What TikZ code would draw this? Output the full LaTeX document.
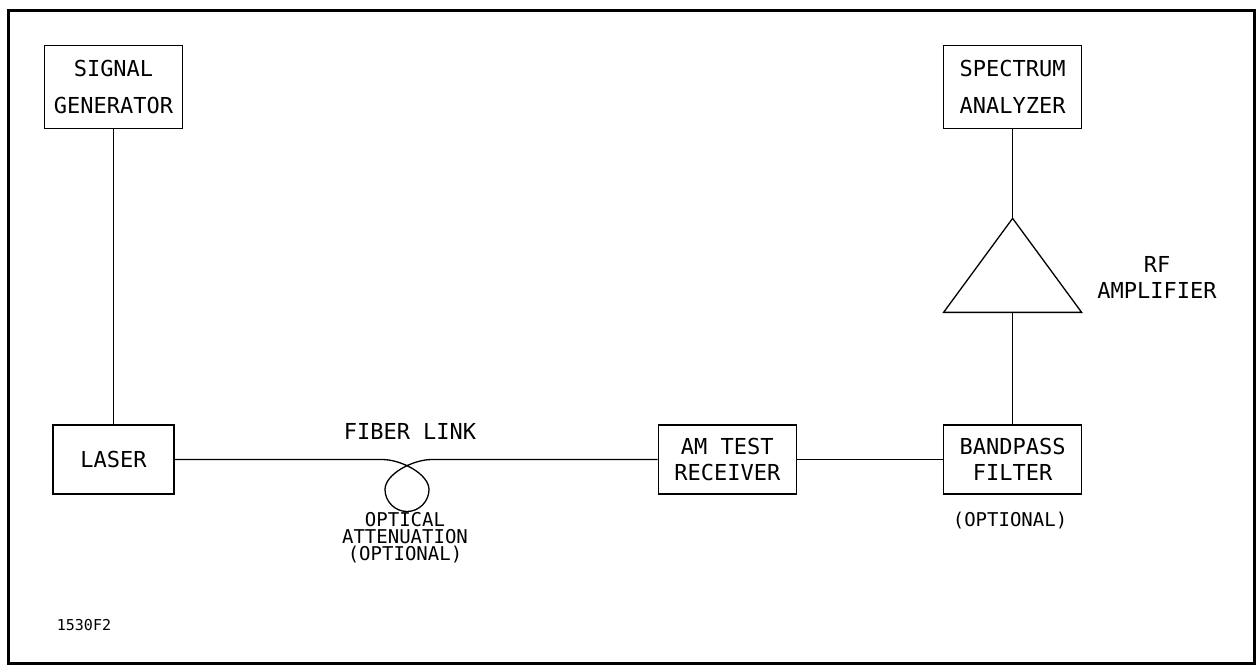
\documentclass[tikz,border=0pt]{standalone}
\usepackage{fontspec}
\setmonofont{DejaVu Sans Mono}
\usetikzlibrary{positioning,calc}

\begin{document}
\begin{tikzpicture}[
  x=1pt, y=-1pt, line width=1.3pt,
  font=\ttfamily\fontsize{22}{26}\selectfont,
  blk/.style={draw,minimum width=138pt,minimum height=69pt,inner sep=0pt,align=center},
  tall/.style={blk,minimum height=83pt,font=\ttfamily\fontsize{22}{37}\selectfont},
  note/.style={align=center,inner sep=0pt,font=\ttfamily\fontsize{19}{17}\selectfont}
]
\useasboundingbox (0,0) rectangle (1257,665);
\draw[line width=3pt] (8,10) rectangle (1254.5,663.5);

\node[blk,minimum width=121pt] (las) at (113.5,459.5) {LASER};
\node[tall,above=295pt of las] (sig) {SIGNAL\\GENERATOR};
\node[blk,right=483pt of las] (rx) {AM TEST\\RECEIVER};
\node[blk,right=146pt of rx] (bpf) {BANDPASS\\FILTER};
\coordinate[above=112pt of bpf] (ampbot);
\coordinate[above=94pt of ampbot] (amptop);
\node[tall,above=89pt of amptop] (spa) {SPECTRUM\\ANALYZER};
\coordinate (loop) at (407,489.5);

% amplifier
\draw (amptop) -- ($(ampbot)+(69,0)$) -- ($(ampbot)+(-69,0)$) -- cycle;

\draw (sig) -- (las);
\draw (spa) -- (amptop);
\draw (ampbot) -- (bpf);
\draw (rx) -- (bpf);
% fiber with loop
\draw (las.east) -- ($(loop)+(-25,-30)$)
  .. controls +(20,0) and +(0,-15) .. ($(loop)+(22,0)$)
  .. controls +(0,12) and +(12,0) .. ($(loop)+(0,22)$)
  .. controls +(-12,0) and +(0,12) .. ($(loop)+(-22,0)$)
  .. controls +(0,-15) and +(-20,0) .. ($(loop)+(25,-30)$)
  -- (rx.west);

\node (fib) at (410,431) {FIBER LINK};
\node[note] (att) at (405,538) {OPTICAL\\ATTENUATION\\(OPTIONAL)};
\node[note] (opt) at (1010,521) {(OPTIONAL)};
\node[align=center] (rfa) at (1157,277) {RF\\AMPLIFIER};
\node[font=\ttfamily\fontsize{15}{17}\selectfont] (fig) at (84,625) {1530F2};
\end{tikzpicture}
\end{document}
